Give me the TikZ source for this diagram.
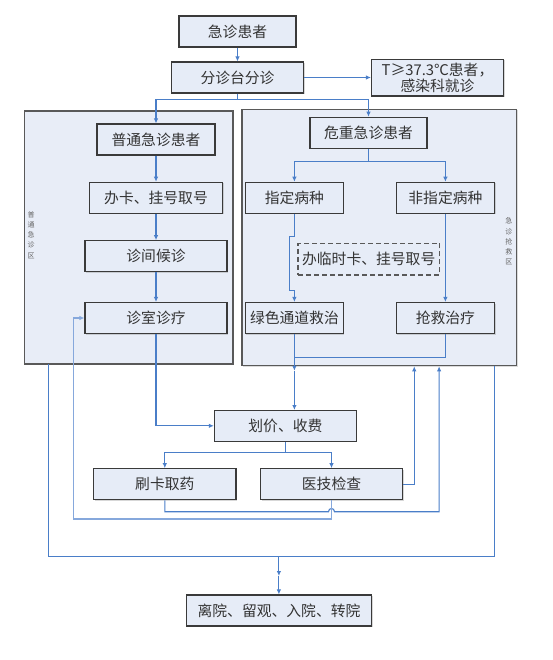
\documentclass[tikz,border=0pt]{standalone}
\usepackage{fontspec}
\setmainfont{Noto Sans CJK SC}
\usetikzlibrary{arrows.meta,shadows,calc}
\definecolor{ln}{HTML}{4A7EC8}
\definecolor{lnl}{HTML}{86A8DC}
\definecolor{bf}{HTML}{E6ECF7}
\definecolor{rf}{HTML}{E8EDF7}
\definecolor{bd}{HTML}{3A3A3A}
\begin{document}
\begin{tikzpicture}[x=1pt,y=-1pt,
  box/.style={draw=bd,line width=1.1pt,fill=bf,inner sep=0pt,
    font=\fontsize{14.8}{17}\selectfont,text=black!80,
    drop shadow={shadow xshift=1pt,shadow yshift=-1pt,fill=black!45,opacity=0.35}},
  dbox/.style={draw=black!65,line width=1.2pt,dashed,dash pattern=on 5pt off 3pt,fill=bf,inner sep=0pt,
    font=\fontsize{14.8}{17}\selectfont,text=black!80},
  region/.style={draw=black!65,line width=1.2pt,fill=rf,inner sep=0pt,
    drop shadow={shadow xshift=1pt,shadow yshift=-1pt,fill=black!40,opacity=0.35}},
  rlabel/.style={font=\fontsize{7}{10.2}\selectfont,text=black!60,align=center,inner sep=0pt},
  conn/.style={draw=ln,line width=1.1pt},
  arr/.style={conn,-{Latex[length=5pt,width=4.5pt]}}
]
\useasboundingbox (0,0) rectangle (552,660);

% regions
\node[region,minimum width=208.4pt,minimum height=253pt] (lr) at (128.8,237.5) {};
\node[region,minimum width=274.5pt,minimum height=256.4pt] (rr) at (379.25,237.5) {};
\node[rlabel] (lrl) at (31,235) {普\\通\\急\\诊\\区};
\node[rlabel] (rrl) at (508.8,241.5) {急\\诊\\抢\\救\\区};

% boxes
\node[box,minimum width=117pt,minimum height=31pt] (jz) at (237.5,31.5) {急诊患者};
\node[box,minimum width=132pt,minimum height=31pt] (fz) at (237.5,77.5) {分诊台分诊};
\node[box,minimum width=132pt,minimum height=36.5pt,align=center,
  font=\fontsize{14.8}{16.5}\selectfont] (T) at (437.5,77.75) {T≥37.3℃患者，\\感染科就诊};
\node[box,minimum width=118pt,minimum height=31pt] (pt) at (156,139.5) {普通急诊患者};
\node[box,minimum width=117pt,minimum height=31pt] (wz) at (368.5,132.8) {危重急诊患者};
\node[box,minimum width=133pt,minimum height=31pt] (bk) at (156,197.8) {办卡、挂号取号};
\node[box,minimum width=142pt,minimum height=31pt] (hz) at (156,256.2) {诊间候诊};
\node[box,minimum width=142pt,minimum height=31pt] (zs) at (156,318) {诊室诊疗};
\node[box,minimum width=98pt,minimum height=31pt] (zd) at (294.4,197.8) {指定病种};
\node[box,minimum width=98.7pt,minimum height=31pt] (fzd) at (445.4,197.8) {非指定病种};
\node[dbox,minimum width=141.4pt,minimum height=31.7pt] (ls) at (368.7,259.2) {办临时卡、挂号取号};
\node[box,minimum width=98pt,minimum height=31pt] (lv) at (294.4,318) {绿色通道救治};
\node[box,minimum width=98.7pt,minimum height=31pt] (qj) at (445.4,318) {抢救治疗};
\node[box,minimum width=142pt,minimum height=30.5pt] (hj) at (285.4,425.8) {划价、收费};
\node[box,minimum width=142.3pt,minimum height=31pt] (sk) at (164.8,484.2) {刷卡取药};
\node[box,minimum width=142pt,minimum height=31pt] (yj) at (331.5,484.2) {医技检查};
\node[box,minimum width=185pt,minimum height=31pt] (ly) at (279,610.5) {离院、留观、入院、转院};

% connectors
\draw[arr] (jz) -- (fz);
\draw[arr] (fz.east) -- (fz.east -| T.west);
\draw[conn] (fz.south) -- ++(0,6.3) coordinate (s1);
\draw[arr] (s1) -| (pt.north);
\draw[arr] (s1) -| (wz.north);
\draw[arr] (pt) -- (bk);
\draw[arr] (bk) -- (hz);
\draw[arr] (hz) -- (zs);
\draw[conn] (wz.south) -- ++(0,12.4) coordinate (s2);
\draw[arr] (s2) -| (zd.north);
\draw[arr] (s2) -| (fzd.north);
\draw[arr] (zd.south) -- ++(0,22.7) -- ++(-5,0) -- ++(0,54) -- ++(5,0) -- (lv.north);
\draw[arr] (fzd) -- (qj);
\draw[conn] (lv.south) -- ++(0,23.4) coordinate (m1) -| (qj.south);
\draw[arr] (m1) -- ++(0,13.3) coordinate (m2);
\draw[arr] (m2) -- (m2 |- hj.north);
\draw[arr] (zs.south) |- (hj.west);
\draw[conn] (hj.south) -- ++(0,11.3) coordinate (s3);
\draw[arr] (s3) -| (sk.north);
\draw[arr] (s3) -| (yj.north);
\draw[arr] (yj.east) -- ++(11.2,0) coordinate (c1) -- (c1 |- rr.south);
\draw[arr] (sk.south) -- (164.8,511.7) -- (328.5,511.7)
  .. controls (328.5,507.5) and (334.5,507.5) .. (334.5,511.7)
  -- (439.1,511.7) coordinate (c2) -- (c2 |- rr.south);
\draw[conn,draw=lnl,-{Latex[length=5pt,width=4.5pt]}] (yj.south) -- (331.5,519) -- (73.2,519) |- (zs.west);
\draw[conn] (48.2,364) -- (48.2,556.7) -- (494.7,556.7) -- (494.7,365.7);
\draw[arr] (278.9,556.7) -- (278.9,576) coordinate (m3);
\draw[arr] (m3) -- (m3 |- ly.north);
\end{tikzpicture}
\end{document}
